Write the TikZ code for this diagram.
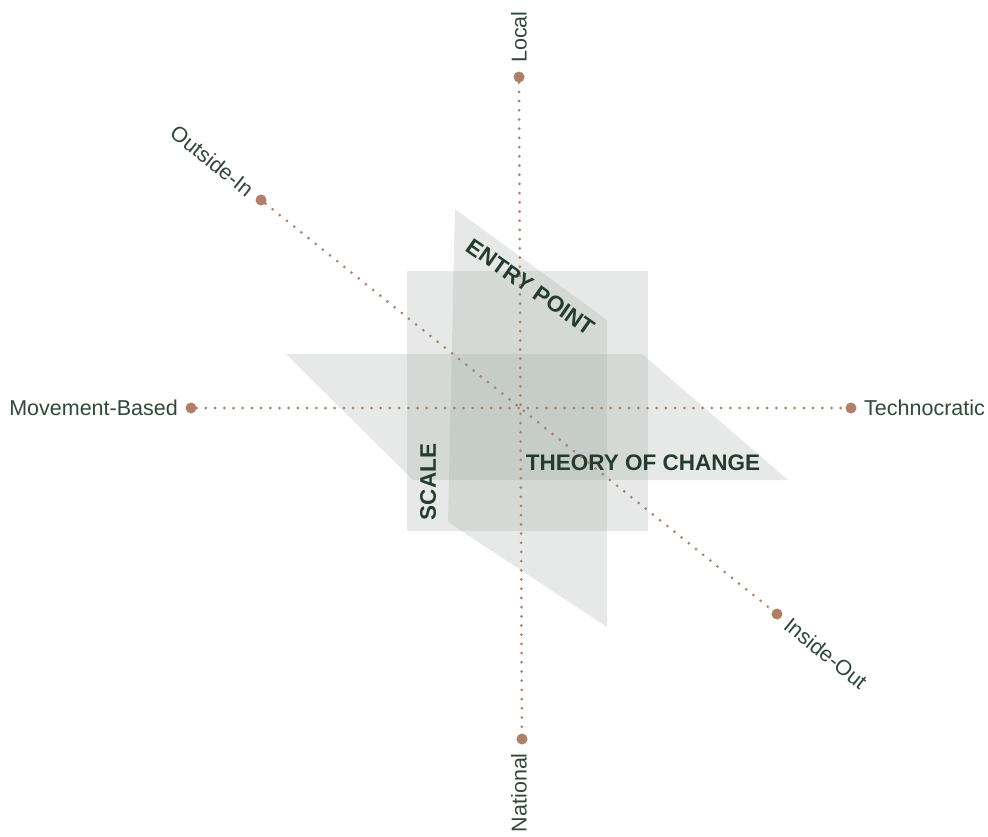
\documentclass[tikz,border=0pt]{standalone}
\usepackage{fontspec}
\setmainfont{Liberation Sans}
\definecolor{axisbrown}{RGB}{176,127,104}
\definecolor{inkgreen}{RGB}{48,72,58}
\definecolor{darkgreen}{RGB}{36,60,45}
\definecolor{planegray}{RGB}{150,162,154}

\begin{document}
\begin{tikzpicture}[x=1pt, y=-1pt,
  plane/.style={fill=planegray, fill opacity=.23},
  axis/.style={axisbrown, line width=3pt, line cap=round, dash pattern=on 0pt off 9.2pt},
  pole/.style={circle, fill=axisbrown, minimum size=11pt, inner sep=0pt},
  pole label/.style={inkgreen, inner sep=0pt, font=\fontsize{21.5}{25}\selectfont},
  plane label/.style={darkgreen, inner sep=0pt, font=\fontsize{22.5}{27}\selectfont\bfseries}]
  \useasboundingbox (0,0) rectangle (988,836);

  % the three planes
  \fill[plane] (407,271) rectangle (648,531);
  \fill[plane] (455,209) -- (607,320) -- (607,627) -- (448,522) -- cycle;
  \fill[plane] (286,354) -- (642,354) -- (788,480) -- (413,480) -- cycle;

  \node[plane label, rotate=-35] (entry) at (531,287) {ENTRY POINT};
  \node[plane label] (theory) at (643,463) {THEORY OF CHANGE};
  \node[plane label, rotate=90] (scale) at (428,482) {SCALE};

  % poles of the three axes
  \node[pole] (local) at (519,77) {};
  \node[pole] (national) at (522,739) {};
  \node[pole] (movement) at (191,408) {};
  \node[pole] (techno) at (851,408) {};
  \node[pole] (outside) at (261,200) {};
  \node[pole] (inside) at (777,614) {};

  \draw[axis] (local) -- (national);
  \draw[axis] (movement) -- (techno);
  \draw[axis] (outside) -- (inside);

  \node[pole label, rotate=90, anchor=west] (locallbl) at (519,63) {Local};
  \node[pole label, rotate=90, anchor=east] (nationallbl) at (519,753) {National};
  \node[pole label, anchor=east] (movementlbl) at (178,408) {Movement-Based};
  \node[pole label, anchor=west] (technolbl) at (864,408) {Technocratic};
  \node[pole label, rotate=-38.8, anchor=east] (outsidelbl) at (251,192) {Outside-In};
  \node[pole label, rotate=-38.8, anchor=west] (insidelbl) at (787,622) {Inside-Out};
\end{tikzpicture}
\end{document}
